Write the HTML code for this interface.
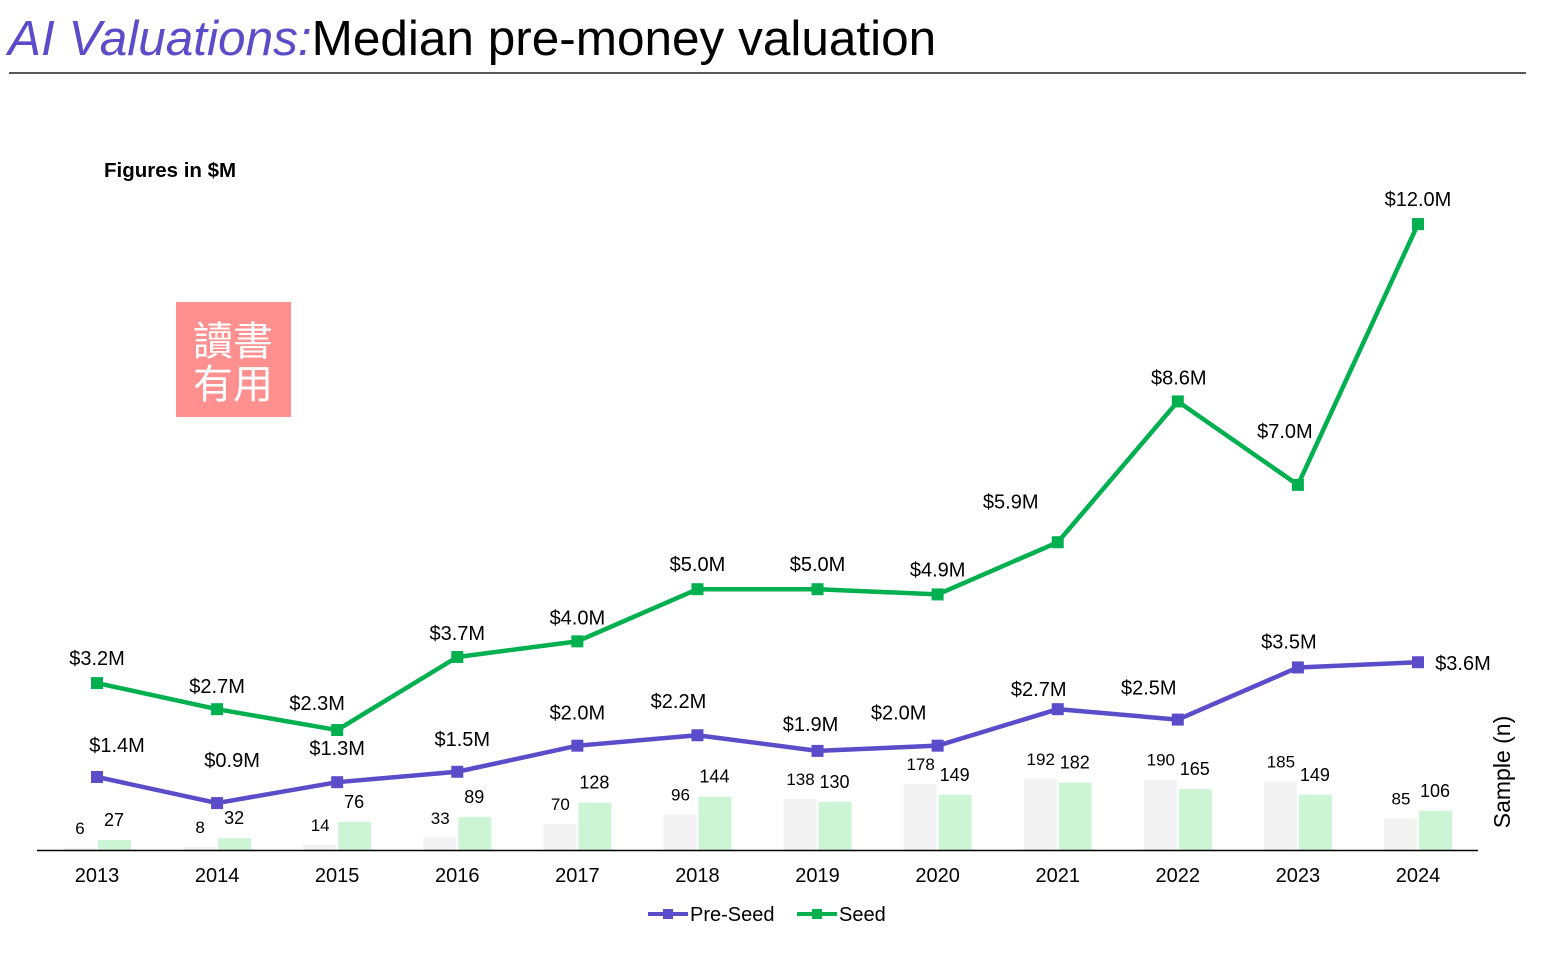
<!DOCTYPE html>
<html><head><meta charset="utf-8"><style>
body{margin:0;background:#fff;width:1549px;height:949px;overflow:hidden;font-family:"Liberation Sans",Arial,sans-serif}
svg text{font-family:"Liberation Sans",Arial,sans-serif}
</style></head><body>
<svg id="chart" width="1549" height="949" xmlns="http://www.w3.org/2000/svg">
<text x="8" y="55" font-size="49.5"><tspan fill="#5b4cc9" font-style="italic">AI Valuations:</tspan><tspan fill="#000">Median pre-money valuation</tspan></text>
<line x1="9" y1="73" x2="1526" y2="73" stroke="#222" stroke-width="1.5"/>
<text x="104" y="177" font-size="20.5" font-weight="bold">Figures in $M</text>
<g>
<rect x="176" y="302" width="115" height="115" fill="#ff9090"/>
<text x="233" y="355" font-size="40" fill="#fff" text-anchor="middle" font-family="'Noto Serif CJK SC','WenQuanYi Zen Hei',serif">讀書</text>
<text x="233" y="398" font-size="40" fill="#fff" text-anchor="middle" font-family="'Noto Serif CJK SC','WenQuanYi Zen Hei',serif">有用</text>
</g>
<g id="bars"></g>
<line x1="37" y1="850.5" x2="1478" y2="850.5" stroke="#000" stroke-width="1.5"/>
<g id="xticks"></g>
<g id="lines"></g>
<text transform="translate(1510,772) rotate(-90)" font-size="23" text-anchor="middle">Sample (n)</text>
<g>
<g><line x1="648" y1="914" x2="688" y2="914" stroke="#5b4cc9" stroke-width="4"/><rect x="663" y="909" width="10" height="10" fill="#5b4cc9"/><text x="690" y="921" font-size="20">Pre-Seed</text></g>
<g><line x1="797" y1="914" x2="837" y2="914" stroke="#00b04f" stroke-width="4"/><rect x="812" y="909" width="10" height="10" fill="#00b04f"/><text x="839" y="921" font-size="20">Seed</text></g>
</g>
</svg>
<script>
const years=["2013","2014","2015","2016","2017","2018","2019","2020","2021","2022","2023","2024"];
const preSeed=[1.4,0.9,1.3,1.5,2.0,2.2,1.9,2.0,2.7,2.5,3.5,3.6];
const seed=[3.2,2.7,2.3,3.7,4.0,5.0,5.0,4.9,5.9,8.6,7.0,12.0];
const preSeedN=[6,8,14,33,70,96,138,178,192,190,185,85];
const seedN=[27,32,76,89,128,144,130,149,182,165,149,106];
// label layout offsets (px)
const preDx=[20,15,0,5,0,-19,-7,-39,-19,-29,-9,45], preDy=[-32,-43,-34,-33,-33,-34,-27,-33,-20,-32,-26,1];
const seedDx=[0,0,-20,0,0,0,0,0,-47,1,-13,0], seedDy=[-25,-23,-27,-24,-24,-25,-25,-25,-41,-24,-54,-25];
const NS="http://www.w3.org/2000/svg";
const X=i=>97+i*120.09, Y=v=>850-v*52.16, B=n=>n*0.37;
function mk(t,a,p){const e=document.createElementNS(NS,t);for(const k in a)e.setAttribute(k,a[k]);p.appendChild(e);return e;}
const bars=document.getElementById('bars'),xt=document.getElementById('xticks'),ln=document.getElementById('lines');
years.forEach((y,i)=>{
 const x=X(i);
 let r=mk('rect',{x:x-34,y:850-B(preSeedN[i]),width:33,height:B(preSeedN[i]),fill:'#f2f2f2'},bars);
 
 
 let r2=mk('rect',{x:x+1,y:850-B(seedN[i]),width:33,height:B(seedN[i]),fill:'#ccf5d6'},bars);
 
 
 let t=mk('text',{x:x-17,y:850-B(preSeedN[i])-14,'font-size':17,'text-anchor':'middle'},bars);t.textContent=preSeedN[i];
 
 
 let t2=mk('text',{x:x+17,y:850-B(seedN[i])-14,'font-size':18,'text-anchor':'middle'},bars);t2.textContent=seedN[i];
 
 
 let tk=mk('text',{x:x,y:882,'font-size':20,'text-anchor':'middle'},xt);tk.textContent=y;
 
 
});
function series(vals,color,name,dx,dy){
 const p=mk('polyline',{points:vals.map((v,i)=>X(i)+','+Y(v)).join(' '),fill:'none',stroke:color,'stroke-width':4.5,'stroke-linejoin':'round'},ln);
 
 
 vals.forEach((v,i)=>{
  const m=mk('rect',{x:X(i)-6,y:Y(v)-6,width:12,height:12,fill:color},ln);
  
  
  const t=mk('text',{x:X(i)+dx[i],y:Y(v)+dy[i]+7,'font-size':20,'text-anchor':'middle'},ln);
  t.textContent='$'+v.toFixed(1)+'M';
  
  
 });
}
series(seed,'#00b04f','seed',seedDx,seedDy);
series(preSeed,'#5b4cc9','pre-seed',preDx,preDy);
</script>
</body></html>
